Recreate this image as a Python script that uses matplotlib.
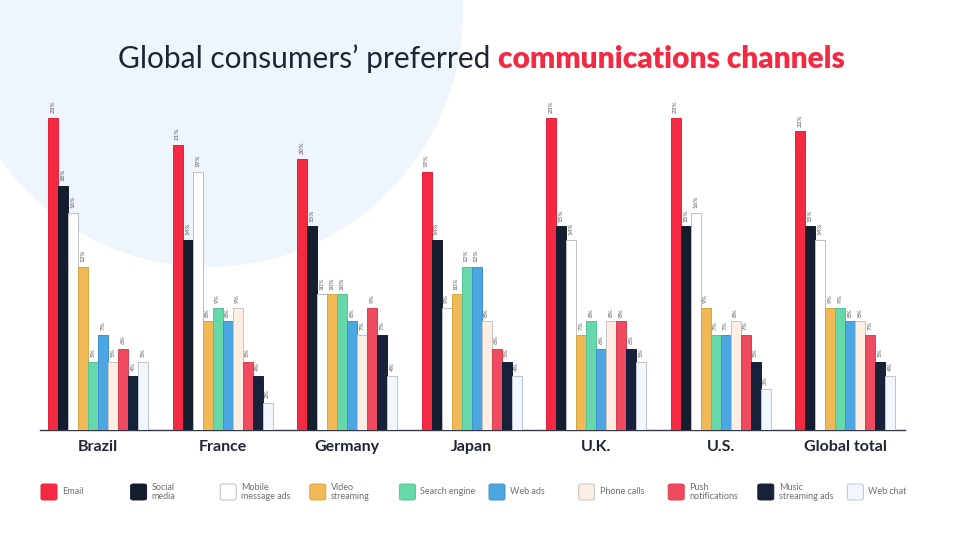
import matplotlib
matplotlib.use("Agg")
import matplotlib.pyplot as plt
from matplotlib.patches import Ellipse, FancyBboxPatch
import numpy as np

countries = ["Brazil", "France", "Germany", "Japan", "U.K.", "U.S.", "Global total"]
channels = ["Email", "Social\nmedia", "Mobile\nmessage ads", "Video\nstreaming", "Search engine",
            "Web ads", "Phone calls", "Push\nnotifications", "Music\nstreaming ads", "Web chat"]

email        = [23, 21, 20, 19, 23, 23, 22]
social_media = [18, 14, 15, 14, 15, 15, 15]
mobile_ads   = [16, 19, 10, 9, 14, 16, 14]
video        = [12, 8, 10, 10, 7, 9, 9]
search       = [5, 9, 10, 12, 8, 7, 9]
web_ads      = [7, 8, 8, 12, 6, 7, 8]
phone_calls  = [5, 9, 7, 8, 8, 8, 8]
push         = [6, 5, 9, 6, 8, 7, 7]
music_ads    = [4, 4, 7, 5, 6, 5, 5]
web_chat     = [5, 2, 4, 4, 5, 3, 4]
series = [email, social_media, mobile_ads, video, search, web_ads, phone_calls, push, music_ads, web_chat]

colors = ["#F42A42", "#151E2F", "#FFFFFF", "#F1B955", "#66D8AA", "#4CA6E1", "#FDEEE4", "#EF4B60", "#17213A", "#F1F7FD"]
edges  = ["#E2223A", "#151E2F", "#B9BEC6", "#D9A544", "#55C497", "#3E93CC", "#C9C3BF", "#D9404F", "#17213A", "#BCC6D0"]

plt.rcParams['font.family'] = ['Lato', 'DejaVu Sans']

fig = plt.figure(figsize=(9.6, 5.4), dpi=100)
fig.patch.set_facecolor("white")

# background circle
circ = Ellipse((208 / 960, 1 - 12 / 540), 2 * 255 / 960, 2 * 255 / 540,
               transform=fig.transFigure, facecolor="#EEF5FC", edgecolor="none", zorder=-10)
fig.patches.append(circ)

ax = fig.add_axes([40 / 960, 110 / 540, 865 / 960, 340 / 540])
ax.set_facecolor("none")
ax.set_zorder(1)

n = len(series)
w = 10 / 124.5
x = np.arange(len(countries))
for j, (vals, c, ec) in enumerate(zip(series, colors, edges)):
    xs = x + (j - (n - 1) / 2) * w
    bars = ax.bar(xs, vals, width=w, color=c, edgecolor=ec, linewidth=0.7, zorder=3)
    for b, v in zip(bars, vals):
        ax.text(b.get_x() + b.get_width() / 2, v + 0.35, f"{v}%", rotation=90,
                ha="center", va="bottom", fontsize=4.6, color="#555555", zorder=4)

ax.set_xlim(-58 / 124.5, 6 + 60 / 124.5)
ax.set_ylim(0, 25.05)
for s in ["top", "right", "left"]:
    ax.spines[s].set_visible(False)
ax.spines["bottom"].set_color("#333844")
ax.spines["bottom"].set_linewidth(1.0)
ax.set_yticks([])
ax.set_xticks(x)
ax.set_xticklabels(countries, fontsize=11.5, fontweight="bold", color="#1E2535")
ax.tick_params(axis="x", length=0, pad=7)

# title
fig.text(490 / 960, 1 - 68 / 540, "Global consumers\u2019 preferred", ha="right", va="baseline",
         fontsize=21.5, color="#1E2535")
fig.text(498 / 960, 1 - 68 / 540, "communications channels", ha="left", va="baseline",
         fontsize=21.5, color="#F42A42", fontweight="heavy")

# legend
for i, (lab, c, ec) in enumerate(zip(channels, colors, edges)):
    x0 = 40 + i * 89.6
    sq = FancyBboxPatch(((x0 + 1) / 960, 1 - 500 / 540), 16 / 960, 16 / 540,
                        boxstyle="round,pad=0,rounding_size=0.003",
                        transform=fig.transFigure, facecolor=c, edgecolor=ec, linewidth=0.7)
    fig.patches.append(sq)
    fig.text((x0 + 22) / 960, 1 - 492 / 540, lab, ha="left", va="center",
             fontsize=6.5, color="#6B6F78", linespacing=1.1)

fig.savefig("out.png", dpi=100)
